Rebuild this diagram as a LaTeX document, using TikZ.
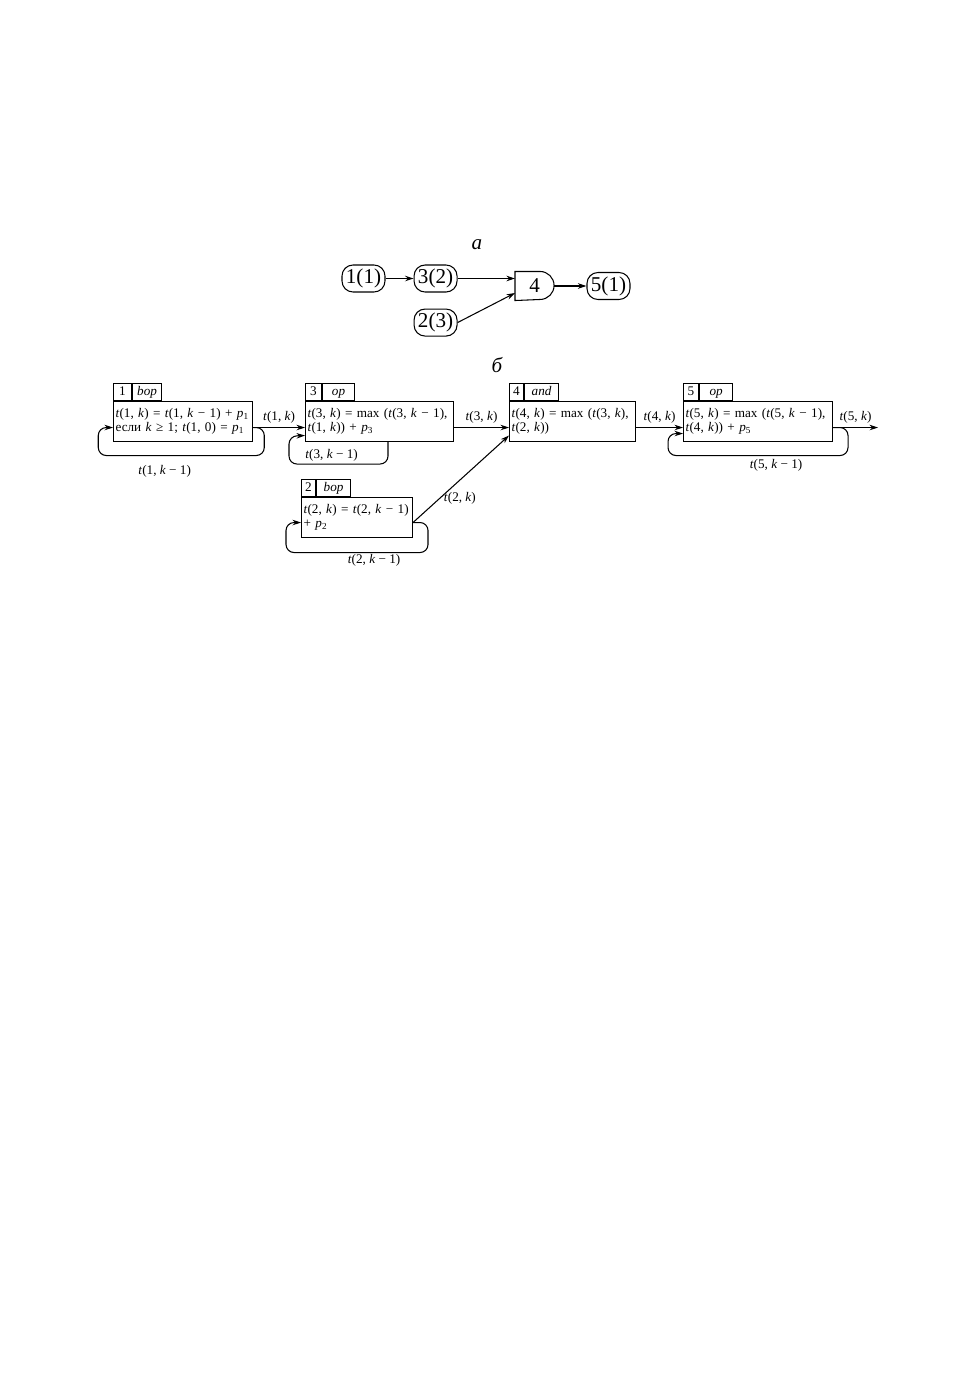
\documentclass[tikz,border=0pt]{standalone}
\usepackage{fontspec}
\setmainfont{Liberation Serif}
\usepackage{xcolor}
\usepackage{tikz}
\usetikzlibrary{arrows.meta,positioning}
\newcommand{\itv}[1]{\textit{#1}}
\newcommand{\eqsize}{\fontsize{7.5}{8}\selectfont}
\tikzset{
  elem/.style={rectangle, rounded corners=0.22cm, draw=black, minimum width=0.86cm, minimum height=0.54cm, inner sep=0pt, font=\fontsize{12}{12}\selectfont},
  gate/.style={rectangle, minimum width=0.76cm, minimum height=0.56cm, inner sep=0pt, font=\fontsize{12}{12}\selectfont},
  body/.style={rectangle, draw=black, minimum height=0.8cm, inner xsep=1.2pt, inner ysep=0pt, align=left, anchor=north west, font=\eqsize},
  tabnum/.style={rectangle, draw=black, minimum width=0.3cm, minimum height=0.34cm, inner sep=0pt, text height=5.4pt, text depth=1.6pt, anchor=south west, font=\eqsize},
  tabname/.style={rectangle, draw=black, minimum width=0.66cm, minimum height=0.34cm, inner sep=0pt, text height=5.4pt, text depth=1.6pt, font=\eqsize\itshape},
  flow/.style={-{Stealth[length=1.7mm,width=1.1mm]}},
  loopback/.style={flow, rounded corners=0.16cm},
  lbl/.style={font=\eqsize, inner sep=1pt},
  partlbl/.style={font=\fontsize{12}{12}\selectfont\itshape},
}
\begin{document}
\begin{tikzpicture}[line width=0.6pt]
  \useasboundingbox (0,0) rectangle (19.38,-27.88);
  % a
  \node[partlbl] (capa) at (9.54,-4.90) {а};
  \node[elem] (e1) at (7.27,-5.57) {1(1)};
  \node[elem,right=0.56cm of e1] (e3) {3(2)};
  \node[elem,below=0.32cm of e3] (e2) {2(3)};
  \node[gate,anchor=west] (g4) at (10.30,-5.72) {4};
  \node[elem] (e5) at (12.17,-5.72) {5(1)};
  \draw (g4.north west) -- ([xshift=-0.28cm]g4.north east) arc[start angle=90,end angle=-90,radius=0.28cm] -- (g4.south west) -- cycle;
  \draw[flow] (e1)--(e3);
  \draw[flow] (e3.east)--(e3.east -| g4.west);
  \draw[flow] (e2.east)--([yshift=-0.14cm]g4.west);
  \draw[flow] (g4)--(e5);
  % b
  \node[partlbl] (capb) at (9.94,-7.30) {б};
  \node[body,text width=2.70cm] (b1) at (2.26,-8.02) {\itv{t}(1, \itv{k}) = \itv{t}(1, \itv{k} − 1) + \itv{p}\textsubscript{1}\\если \itv{k} ≥ 1; \itv{t}(1, 0) = \itv{p}\textsubscript{1}};
  \node[body,text width=2.875cm] (b3) at (6.10,-8.02) {\itv{t}(3, \itv{k}) = max (\itv{t}(3, \itv{k} − 1),\\\itv{t}(1, \itv{k})) + \itv{p}\textsubscript{3}};
  \node[body,text width=2.435cm] (b4) at (10.18,-8.02) {\itv{t}(4, \itv{k}) = max (\itv{t}(3, \itv{k}),\\\itv{t}(2, \itv{k}))};
  \node[body,text width=2.895cm] (b5) at (13.66,-8.02) {\itv{t}(5, \itv{k}) = max (\itv{t}(5, \itv{k} − 1),\\\itv{t}(4, \itv{k})) + \itv{p}\textsubscript{5}};
  \node[body,text width=2.135cm] (b2) at (6.02,-9.94) {\itv{t}(2, \itv{k}) = \itv{t}(2, \itv{k} − 1)\\+ \itv{p}\textsubscript{2}};
  \node[tabnum,minimum width=0.36cm] (n1) at (b1.north west) {1};
  \node[tabname,minimum width=0.58cm,right=0pt of n1] (o1) {bop};
  \node[tabnum,minimum width=0.32cm] (n3) at (b3.north west) {3};
  \node[tabname,minimum width=0.64cm,right=0pt of n3] (o3) {op};
  \node[tabnum,minimum width=0.28cm] (n4) at (b4.north west) {4};
  \node[tabname,minimum width=0.68cm,right=0pt of n4] (o4) {and};
  \node[tabnum] (n5) at (b5.north west) {5};
  \node[tabname,right=0pt of n5] (o5) {op};
  \node[tabnum,minimum width=0.28cm] (n2) at (b2.north west) {2};
  \node[tabname,minimum width=0.68cm,right=0pt of n2] (o2) {bop};
  \coordinate (out) at ([xshift=0.9cm,yshift=-0.12cm]b5.east);
  \draw[flow] ([yshift=-0.12cm]b1.east) -- node[lbl,above=1pt]{\itv{t}(1, \itv{k})} ([yshift=-0.12cm]b3.west);
  \draw[flow] ([yshift=-0.12cm]b3.east) -- node[lbl,above=1pt]{\itv{t}(3, \itv{k})} ([yshift=-0.12cm]b4.west);
  \draw[flow] ([yshift=-0.12cm]b4.east) -- node[lbl,above=1pt]{\itv{t}(4, \itv{k})} ([yshift=-0.12cm]b5.west);
  \draw[flow] ([yshift=-0.12cm]b5.east) -- node[lbl,above=1pt]{\itv{t}(5, \itv{k})} (out);
  \draw[flow] ([yshift=-0.10cm]b2.east) -- node[lbl,pos=0.28,right=1pt]{\itv{t}(2, \itv{k})} ([yshift=-0.28cm]b4.west);
  \draw[loopback] ([yshift=-0.12cm]b1.east) -- ++(0.22,0) -- ++(0,-0.56) -- node[lbl,pos=0.6,below=4.5pt]{\itv{t}(1, \itv{k} − 1)} ++(-3.32,0) -- ++(0,0.56) -- ([yshift=-0.12cm]b1.west);
  \draw[loopback] ([xshift=1.66cm]b3.south west) -- ++(0,-0.44) -- node[lbl,pos=0.57,above]{\itv{t}(3, \itv{k} − 1)} ++(-1.98,0) -- ++(0,0.56) -- ([yshift=-0.28cm]b3.west);
  \draw[loopback] ([yshift=-0.12cm]b5.east) -- ++(0.30,0) -- ++(0,-0.56) -- node[lbl,pos=0.4,below=0.7pt]{\itv{t}(5, \itv{k} − 1)} ++(-3.60,0) -- ++(0,0.44) -- ([yshift=-0.24cm]b5.west);
  \draw[loopback] ([yshift=-0.10cm]b2.east) -- ++(0.30,0) -- ++(0,-0.60) -- node[lbl,pos=0.38,below=0pt]{\itv{t}(2, \itv{k} − 1)} ++(-2.84,0) -- ++(0,0.60) -- ([yshift=-0.10cm]b2.west);
\end{tikzpicture}
\end{document}
